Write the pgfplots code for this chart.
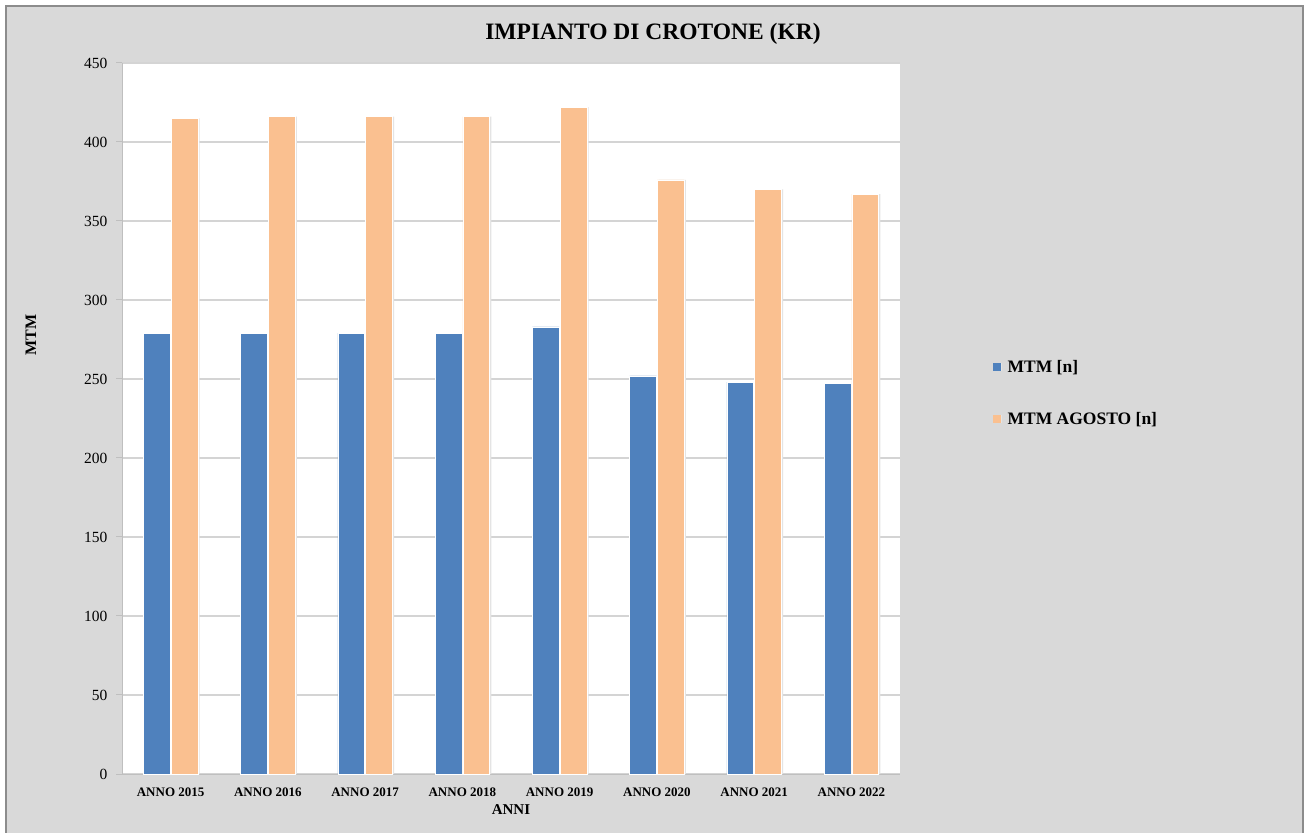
\documentclass[border=0pt]{standalone}
\usepackage{fontspec}
\setmainfont{Liberation Serif}
\usepackage{pgfplots}
\pgfplotsset{compat=1.18}

\definecolor{mtmBlue}{HTML}{4F81BD}
\definecolor{mtmOrange}{HTML}{FAC090}
\definecolor{chartBg}{HTML}{D9D9D9}
\definecolor{frameGray}{HTML}{8C8C8C}
\definecolor{axisGray}{HTML}{BFBFBF}
\definecolor{gridGray}{HTML}{D4D4D4}
\definecolor{barShade}{HTML}{E4E4E4}

\begin{document}
\begin{tikzpicture}[x=1pt,y=1pt]
\useasboundingbox (0,0) rectangle (1305,832);
\fill[white] (0,0) rectangle (1305,832);
% chart area
\draw[fill=chartBg, draw=frameGray, line width=1.2pt] (6,-10) rectangle (1303,826);

\node[font=\bfseries\fontsize{23.5}{28}\selectfont] at (653,798) {IMPIANTO DI CROTONE (KR)};

\begin{axis}[
  at={(122pt,58pt)}, anchor=south west,
  scale only axis, width=778pt, height=711pt,
  axis background/.style={fill=white},
  xmin=-0.5, xmax=7.5, ymin=0, ymax=450,
  ytick={0,50,...,450},
  xtick={0,...,7},
  xticklabels={ANNO 2015,ANNO 2016,ANNO 2017,ANNO 2018,ANNO 2019,ANNO 2020,ANNO 2021,ANNO 2022},
  axis lines=left, axis line style={-, draw=axisGray, line width=1pt},
  tick align=outside, major tick length=6pt,
  ytick style={draw=axisGray, line width=1pt},
  xtick style={draw=none},
  ymajorgrids, grid style={draw=gridGray, line width=1.3pt},
  /pgf/number format/assume math mode=true,
  yticklabel style={font=\fontsize{15.5}{18}\selectfont, xshift=-5pt},
  xticklabel style={font=\bfseries\fontsize{13}{15}\selectfont, yshift=-4pt},
  xlabel={ANNI},
  xlabel style={font=\bfseries\fontsize{15}{18}\selectfont, at={(axis description cs:0.5,-0.0506)}, anchor=center},
  ylabel={MTM},
  ylabel style={font=\bfseries\fontsize{16}{19}\selectfont, at={(axis description cs:-0.117,0.617)}, anchor=center},
  legend style={at={(axis description cs:1.115,0.536)}, anchor=west, draw=none, fill=none,
    font=\bfseries\fontsize{17.5}{21}\selectfont, row sep=34pt},
  legend cell align=left,
  % soft shade on the right of each bar
  bar shade/.style={preaction={fill=barShade, draw=none, transform canvas={xshift=1.8pt}}},
]
\addplot[ybar, bar width=0.275, bar shift=-0.142, fill=mtmBlue, draw=white, line width=0.6pt, bar shade,
  legend image code/.code={\fill[mtmBlue, draw=none] (0pt,-4pt) rectangle (8pt,4pt); \path[draw=none, fill=none] (8pt,0pt) -- (13pt,0pt);}]
  coordinates {(0,279) (1,279) (2,279) (3,279) (4,283) (5,252) (6,248) (7,247)};
\addlegendentry{MTM [n]}
\addplot[ybar, bar width=0.275, bar shift=0.142, fill=mtmOrange, draw=white, line width=0.6pt, bar shade,
  legend image code/.code={\fill[mtmOrange, draw=none] (0pt,-4pt) rectangle (8pt,4pt); \path[draw=none, fill=none] (8pt,0pt) -- (13pt,0pt);}]
  coordinates {(0,415) (1,416) (2,416) (3,416) (4,422) (5,376) (6,370) (7,367)};
\addlegendentry{MTM AGOSTO [n]}
\end{axis}
\end{tikzpicture}
\end{document}
